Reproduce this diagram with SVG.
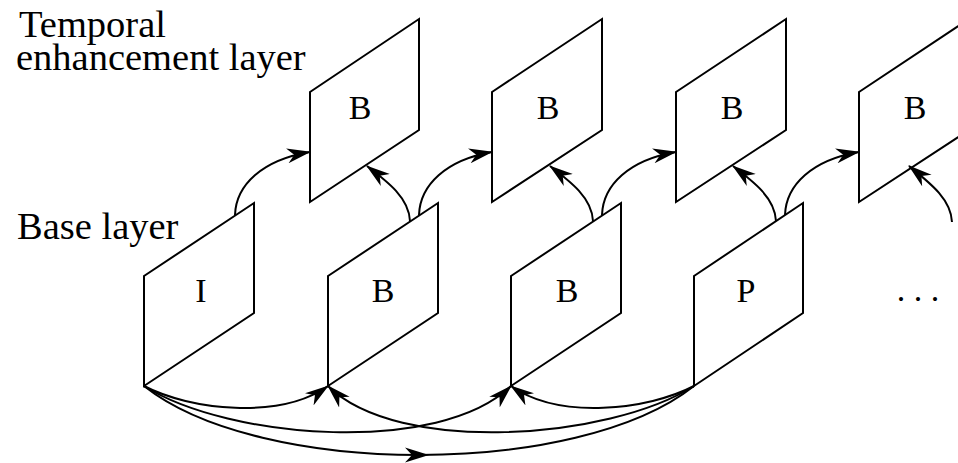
<svg xmlns="http://www.w3.org/2000/svg" width="958" height="463" viewBox="0 0 958 463">
<style>
.fr{fill:#fff;stroke:#000;stroke-width:2;stroke-linejoin:miter}
text{font-family:'Liberation Serif','DejaVu Serif',serif;fill:#000}
.lb{font-size:38.5px}
.fl{font-size:34px;text-anchor:middle}
.c{fill:none;stroke:#000;stroke-width:2}
.a{marker-end:url(#ah)}
</style>
<defs>
<marker id="ah" markerUnits="userSpaceOnUse" markerWidth="26" markerHeight="16" refX="23" refY="7.5" orient="auto" viewBox="0 0 26 15">
<path d="M0,0 L24,7.5 L0,15 L7,7.5 z" fill="#000"/>
</marker>
<marker id="am" markerUnits="userSpaceOnUse" markerWidth="26" markerHeight="16" refX="14" refY="7.5" orient="auto" viewBox="0 0 26 15">
<path d="M0,0 L24,7.5 L0,15 L7,7.5 z" fill="#000"/>
</marker>
</defs>
<g id="labels">
<text class="lb" x="19" y="37">Temporal</text>
<text class="lb" x="16" y="70">enhancement layer</text>
<text class="lb" x="17" y="239">Base layer</text>
</g>
<g id="top1"><path class="fr" d="M310,92 L419,19 L419,130 L310,202 Z"/><text class="fl" x="360" y="119">B</text></g>
<g id="top2"><path class="fr" d="M492,92 L602,19 L602,130 L492,202 Z"/><text class="fl" x="548" y="119">B</text></g>
<g id="top3"><path class="fr" d="M676,92 L786,19 L786,130 L676,202 Z"/><text class="fl" x="732" y="119">B</text></g>
<g id="top4"><path class="fr" d="M859,92 L969,19 L969,130 L859,202 Z"/><text class="fl" x="915" y="119">B</text></g>
<g id="base1"><path class="fr" d="M144,276 L254,203 L254,313 L144,386 Z"/><text class="fl" x="201" y="302">I</text></g>
<g id="base2"><path class="fr" d="M328,276 L438,203 L438,313 L328,386 Z"/><text class="fl" x="383" y="302">B</text></g>
<g id="base3"><path class="fr" d="M511,276 L621,203 L621,313 L511,386 Z"/><text class="fl" x="567" y="302">B</text></g>
<g id="base4"><path class="fr" d="M694,276 L803,203 L803,313 L694,386 Z"/><text class="fl" x="746" y="302">P</text></g>
<g id="dots"><text class="fl" x="918" y="301">. . .</text></g>
<g id="connectors">
<path class="c a" d="M235,215 C236,185 262,160 310,152"/>
<path class="c a" d="M419,215 C420,185 446,160 492,152"/>
<path class="c a" d="M602,215 C603,185 629,160 676,152"/>
<path class="c a" d="M785,215 C786,185 812,160 859,152"/>
<path class="c a" d="M410,221 C409,198 388,182 367,166"/>
<path class="c a" d="M593,221 C592,198 571,182 550,166"/>
<path class="c a" d="M776,221 C775,198 754,182 733,166"/>
<path class="c a" d="M952,222 C951,199 930,183 909,166"/>
<path class="c a" d="M144,386 C190,410 280,420 328,386"/>
<path class="c a" d="M144,386 C230,440 440,455 511,386"/>
<path class="c" d="M144,386 C202,432 310.5,455 419,455" marker-end="url(#am)"/>
<path class="c" d="M419,455 C527.5,455 636,432 694,386"/>
<path class="c a" d="M694,386 C608,440 398,455 328,386"/>
<path class="c a" d="M694,386 C648,410 559,420 511,386"/>
</g>
</svg>
